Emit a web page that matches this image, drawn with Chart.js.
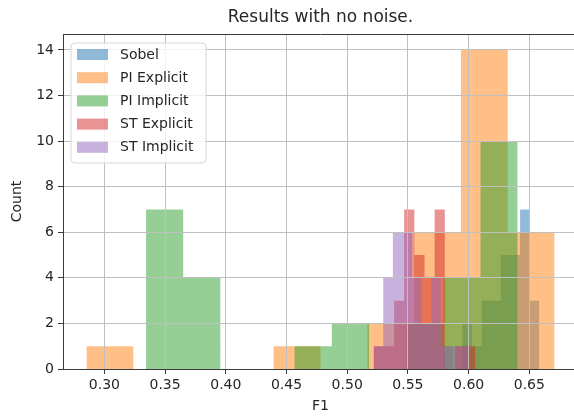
<!DOCTYPE html>
<html>
<head>
  <meta charset="utf-8">
  <script src="https://cdn.jsdelivr.net/npm/chart.js@4.4.1/dist/chart.umd.min.js"></script>
  <style>
    html, body { margin: 0; padding: 0; overflow: hidden; background: #fff; }
    canvas { display: block; }
  </style>
</head>
<body>
<canvas id="histChart" width="584" height="419"></canvas>

<script type="text/javascript">
  // bin edges (F1) and counts per method
  const sobelEdges = [0.5792, 0.5871, 0.5950, 0.6029, 0.6108, 0.6187, 0.6266, 0.6345, 0.6424, 0.6503, 0.6582];
  const sobelCounts = [1, 0, 2, 1, 3, 3, 5, 5, 7, 3];

  const piExplicitEdges = [0.2852, 0.3238, 0.3623, 0.4009, 0.4394, 0.4780, 0.5166, 0.5551, 0.5937, 0.6322, 0.6708];
  const piExplicitCounts = [1, 0, 0, 0, 1, 0, 2, 6, 14, 6];

  const piImplicitEdges = [0.3343, 0.3649, 0.3955, 0.4261, 0.4567, 0.4873, 0.5180, 0.5486, 0.5792, 0.6098, 0.6404];
  const piImplicitCounts = [7, 4, 0, 0, 1, 2, 0, 2, 4, 10];

  const stExplicitEdges = [0.5218, 0.5302, 0.5386, 0.5469, 0.5553, 0.5637, 0.5720, 0.5804, 0.5888, 0.5971, 0.6055];
  const stExplicitCounts = [1, 1, 3, 7, 5, 4, 7, 0, 1, 1];

  const stImplicitEdges = [0.5218, 0.5297, 0.5376, 0.5455, 0.5534, 0.5613, 0.5692, 0.5771, 0.5850, 0.5929, 0.6008];
  const stImplicitCounts = [1, 4, 6, 6, 4, 2, 4, 1, 1, 1];

  const xTicks = [0.30, 0.35, 0.40, 0.45, 0.50, 0.55, 0.60, 0.65];
  const yTicks = [0, 2, 4, 6, 8, 10, 12, 14];

  const FONT = "'DejaVu Sans', sans-serif";
  const TEXT = '#262626';

  // stepped outline of a histogram: one point per bin edge
  function histPoints(edges, counts) {
    let pts = [];
    for (let i = 0; i < edges.length; i++) {
      pts.push({x: edges[i], y: i < counts.length ? counts[i] : 0});
    }
    return pts;
  }

  function histSet(label, edges, counts, color, order) {
    return {
      label: label,
      data: histPoints(edges, counts),
      stepped: 'before',   // keep the bin's count until the next edge
      fill: 'origin',
      backgroundColor: color,
      borderWidth: 0,
      pointRadius: 0,
      order: order
    };
  }

  const titlePlugin = {
    id: 'axTitle',
    afterDraw(chart) {
      const ctx = chart.ctx, a = chart.chartArea;
      ctx.save();
      ctx.font = '17px ' + FONT;
      ctx.fillStyle = TEXT;
      ctx.textAlign = 'center';
      ctx.textBaseline = 'middle';
      ctx.fillText('Results with no noise.', (a.left + a.right) / 2, 18);
      // top spine
      ctx.strokeStyle = '#3a3a3a';
      ctx.lineWidth = 1;
      ctx.beginPath();
      ctx.moveTo(a.left, a.top + 0.5);
      ctx.lineTo(a.right, a.top + 0.5);
      ctx.stroke();
      ctx.restore();
    }
  };

  const legendPlugin = {
    id: 'boxLegend',
    afterDraw(chart) {
      const ctx = chart.ctx, a = chart.chartArea;
      const x0 = a.left + 8, y0 = a.top + 9, w = 135, h = 120, r = 4;
      ctx.save();
      ctx.beginPath();
      ctx.moveTo(x0 + r, y0);
      ctx.arcTo(x0 + w, y0, x0 + w, y0 + h, r);
      ctx.arcTo(x0 + w, y0 + h, x0, y0 + h, r);
      ctx.arcTo(x0, y0 + h, x0, y0, r);
      ctx.arcTo(x0, y0, x0 + w, y0, r);
      ctx.closePath();
      ctx.fillStyle = 'rgba(255,255,255,0.8)';
      ctx.fill();
      ctx.strokeStyle = '#d6d6d6';
      ctx.lineWidth = 1;
      ctx.stroke();

      ctx.font = '14px ' + FONT;
      ctx.textBaseline = 'middle';
      ctx.textAlign = 'left';
      chart.data.datasets.forEach(function(ds, i) {
        const cy = y0 + 11.5 + i * 23.2;
        ctx.fillStyle = ds.backgroundColor;
        ctx.fillRect(x0 + 6, cy - 5.5, 31, 11);
        ctx.fillStyle = TEXT;
        ctx.fillText(ds.label, x0 + 49, cy + 0.5);
      });
      ctx.restore();
    }
  };

  const ctx = document.getElementById('histChart').getContext('2d');

  new Chart(ctx, {
    type: 'line',
    data: {
      datasets: [
        histSet('Sobel', sobelEdges, sobelCounts, 'rgba(31,119,180,0.5)', 5),
        histSet('PI Explicit', piExplicitEdges, piExplicitCounts, 'rgba(255,127,14,0.5)', 4),
        histSet('PI Implicit', piImplicitEdges, piImplicitCounts, 'rgba(44,160,44,0.5)', 3),
        histSet('ST Explicit', stExplicitEdges, stExplicitCounts, 'rgba(214,39,40,0.5)', 2),
        histSet('ST Implicit', stImplicitEdges, stImplicitCounts, 'rgba(148,103,189,0.5)', 1)
      ]
    },
    options: {
      responsive: false,
      animation: false,
      layout: { padding: {top: 34, left: 0, right: 6, bottom: 0} },
      plugins: {
        legend: { display: false },
        title: { display: false },
        tooltip: { enabled: false }
      },
      scales: {
        x: {
          type: 'linear',
          min: 0.2659,
          max: 0.6901,
          afterBuildTicks: function(axis) {
            axis.ticks = xTicks.map(v => ({value: v}));
          },
          afterFit: function(axis) { axis.height = 50; },
          ticks: {
            padding: 3,
            color: TEXT,
            font: {family: FONT, size: 14},
            maxRotation: 0,
            callback: function(v) { return Number(v).toFixed(2); }
          },
          grid: { color: '#c0c0c0', lineWidth: 1, tickColor: '#3a3a3a', tickLength: 5, z: 1 },
          border: { display: true, color: '#3a3a3a', width: 1, z: 2 },
          title: {
            display: true, text: 'F1', color: TEXT,
            font: {family: FONT, size: 14},
            padding: {top: 0, bottom: 4}
          }
        },
        y: {
          min: 0,
          max: 14.7,
          afterBuildTicks: function(axis) {
            axis.ticks = yTicks.map(v => ({value: v}));
          },
          afterFit: function(axis) { axis.width = 63; },
          ticks: {
            padding: 4,
            color: TEXT,
            font: {family: FONT, size: 14}
          },
          grid: { color: '#c0c0c0', lineWidth: 1, tickColor: '#3a3a3a', tickLength: 5, z: 1 },
          border: { display: true, color: '#3a3a3a', width: 1, z: 2 },
          title: {
            display: true, text: 'Count', color: TEXT,
            font: {family: FONT, size: 14},
            padding: {top: 9, bottom: 0}
          }
        }
      }
    },
    plugins: [titlePlugin, legendPlugin]
  });
</script>
</body>
</html>
